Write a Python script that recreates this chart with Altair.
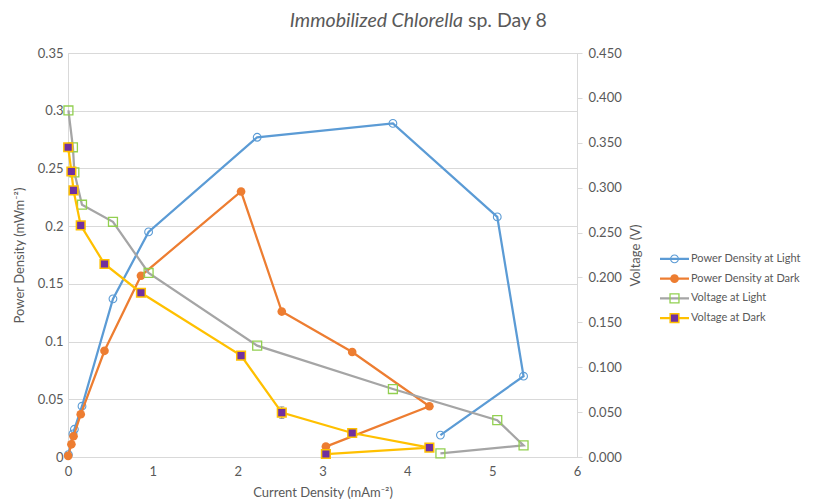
import altair as alt
import pandas as pd

# ---------------- data ----------------
light_x = [0.005, 0.058, 0.075, 0.165, 0.53, 0.95, 2.23, 3.83, 5.06, 5.37, 4.39]
light_pd = [0.002, 0.020, 0.024, 0.044, 0.137, 0.195, 0.277, 0.289, 0.208, 0.070, 0.019]
light_v = [0.386, 0.345, 0.317, 0.281, 0.262, 0.205, 0.124, 0.0757, 0.041, 0.013, 0.004]

dark_x = [0.002, 0.040, 0.065, 0.150, 0.43, 0.86, 2.04, 2.52, 3.35, 4.26, 3.04]
dark_pd = [0.001, 0.011, 0.018, 0.037, 0.092, 0.157, 0.230, 0.126, 0.091, 0.044, 0.009]
dark_v = [0.345, 0.318, 0.297, 0.258, 0.215, 0.183, 0.113, 0.0494, 0.0267, 0.0104, 0.0033]
dark_err = [0.002, 0.002, 0.002, 0.002, 0.004, 0.004, 0.002, 0.0065, 0.002, 0.002, 0.001]

series_names = ["Power Density at Light", "Power Density at Dark",
                "Voltage at Light", "Voltage at Dark"]
x_ticks = [0, 1, 2, 3, 4, 5, 6]
pd_ticks = [0, 0.05, 0.1, 0.15, 0.2, 0.25, 0.3, 0.35]
v_ticks = [0, 0.05, 0.1, 0.15, 0.2, 0.25, 0.3, 0.35, 0.4, 0.45]
title_italic = ["Immobilized Chlorella"]
title_plain = ["sp. Day 8"]

# ---------------- styling ----------------
BLUE = "#5B9BD5"
ORANGE = "#ED7D31"
GRAY = "#A5A5A5"
YELLOW = "#FFC000"
GREEN = "#92D050"
PURPLE = "#7030A0"
TXT = "#595959"
GRID = "#D9D9D9"
FONT = "Lato"
W, H = 509, 404

light = pd.DataFrame({"x": light_x, "pd": light_pd, "v": light_v,
                      "i": list(range(len(light_x)))})
dark = pd.DataFrame({"x": dark_x, "pd": dark_pd, "v": dark_v,
                     "i": list(range(len(dark_x)))})
dark["lo"] = [v - e for v, e in zip(dark_v, dark_err)]
dark["hi"] = [v + e for v, e in zip(dark_v, dark_err)]

X = alt.X("x:Q", scale=alt.Scale(domain=[0, 6], nice=False),
          axis=alt.Axis(values=x_ticks, format="d", title="Current Density (mAm⁻²)",
                        grid=False, ticks=False, domainColor=GRID, labelFlush=False,
                        labelColor=TXT, labelFontSize=13, labelFont=FONT,
                        titleColor=TXT, titleFontSize=13, titleFont=FONT,
                        titleFontWeight="normal", labelPadding=8, titlePadding=8))

left_axis = alt.Axis(values=pd_ticks, format=".2~f", title="Power Density (mWm⁻²)",
                     grid=True, gridColor=GRID, ticks=False, domainColor=GRID,
                     labelFlush=False,
                     labelColor=TXT, labelFontSize=13, labelFont=FONT,
                     titleColor=TXT, titleFontSize=13, titleFont=FONT,
                     titleFontWeight="normal", labelPadding=5, titlePadding=11)
pd_scale = alt.Scale(domain=[0, 0.35], nice=False)
YP = alt.Y("pd:Q", scale=pd_scale, axis=left_axis)

right_axis = alt.Axis(values=v_ticks, format=".3f", title="Voltage (V)", orient="right",
                      grid=False, ticks=True, tickSize=5, tickColor=GRID, domainColor=GRID,
                      labelFlush=False,
                      labelColor=TXT, labelFontSize=13, labelFont=FONT,
                      titleColor=TXT, titleFontSize=13, titleFont=FONT, titleAngle=270,
                      titleBaseline="top",
                      titleFontWeight="normal", labelPadding=6, titlePadding=8)
v_scale = alt.Scale(domain=[0, 0.45], nice=False)
YV = alt.Y("v:Q", scale=v_scale, axis=right_axis)

# ---------------- power density (left axis) ----------------
pl_line = alt.Chart(light).mark_line(color=BLUE, strokeWidth=2.25).encode(x=X, y=YP, order="i:Q")
pl_pts = alt.Chart(light).mark_point(shape="circle", filled=False, color=BLUE, size=60,
                                     strokeWidth=1.1, opacity=1).encode(x=X, y=YP)
pdk_line = alt.Chart(dark).mark_line(color=ORANGE, strokeWidth=2.25).encode(x=X, y=YP, order="i:Q")
pdk_pts = alt.Chart(dark).mark_circle(color=ORANGE, size=75, opacity=1).encode(x=X, y=YP)
power = alt.layer(pl_line, pl_pts, pdk_line, pdk_pts)

# ---------------- voltage (right axis) ----------------
vl_line = alt.Chart(light).mark_line(color=GRAY, strokeWidth=2.25).encode(x=X, y=YV, order="i:Q")
vl_pts = alt.Chart(light).mark_point(shape="square", filled=False, color=GREEN, size=80,
                                     strokeWidth=1.3, opacity=1).encode(x=X, y=YV)
vd_line = alt.Chart(dark).mark_line(color=YELLOW, strokeWidth=2.25).encode(x=X, y=YV, order="i:Q")
vd_err = alt.Chart(dark).mark_errorbar(ticks=True, color="#7F7F7F").encode(
    x=X, y=alt.Y("lo:Q", scale=v_scale, axis=right_axis), y2="hi:Q")
vd_pts = alt.Chart(dark).mark_square(fill=PURPLE, stroke=YELLOW, strokeWidth=1.5,
                                     size=75, opacity=1).encode(x=X, y=YV)
voltage = alt.layer(vl_line, vl_pts, vd_line, vd_err, vd_pts)

# ---------------- legend (built as marks) ----------------
leg = pd.DataFrame({"s": series_names})
LY = alt.Y("s:N", scale=alt.Scale(domain=series_names, range=[196, 275], padding=0), axis=None)
LC = alt.Color("s:N", scale=alt.Scale(domain=series_names, range=[BLUE, ORANGE, GRAY, YELLOW]),
               legend=None)
leg_lines = alt.Chart(leg).mark_rule(strokeWidth=2.25).encode(
    x=alt.value(592), x2=alt.value(621), y=LY, color=LC)
leg_p1 = alt.Chart(leg).transform_filter(alt.datum.s == series_names[0]).mark_point(
    shape="circle", filled=False, color=BLUE, size=60, strokeWidth=1.1, opacity=1).encode(
    x=alt.value(606.5), y=LY)
leg_p2 = alt.Chart(leg).transform_filter(alt.datum.s == series_names[1]).mark_circle(
    color=ORANGE, size=75, opacity=1).encode(x=alt.value(606.5), y=LY)
leg_p3 = alt.Chart(leg).transform_filter(alt.datum.s == series_names[2]).mark_point(
    shape="square", filled=False, color=GREEN, size=80, strokeWidth=1.3, opacity=1).encode(
    x=alt.value(606.5), y=LY)
leg_p4 = alt.Chart(leg).transform_filter(alt.datum.s == series_names[3]).mark_square(
    fill=PURPLE, stroke=YELLOW, strokeWidth=1.5, size=75, opacity=1).encode(
    x=alt.value(606.5), y=LY)
leg_text = alt.Chart(leg).mark_text(align="left", baseline="middle", font=FONT,
                                    fontSize=11, color=TXT).encode(
    x=alt.value(623), y=LY, text="s:N")
legend = alt.layer(leg_lines, leg_p1, leg_p2, leg_p3, leg_p4, leg_text)

# ---------------- title (mixed italic / regular) ----------------
t1 = alt.Chart(pd.DataFrame({"t": title_italic})).mark_text(
    align="right", baseline="alphabetic", font=FONT, fontSize=19.5, fontStyle="italic",
    color=TXT).encode(x=alt.value(395), y=alt.value(-26), text="t:N")
t2 = alt.Chart(pd.DataFrame({"t": title_plain})).mark_text(
    align="left", baseline="alphabetic", font=FONT, fontSize=19.5, color=TXT).encode(
    x=alt.value(400), y=alt.value(-26), text="t:N")

chart = alt.layer(power, voltage, legend, t1, t2).resolve_scale(y="independent").properties(
    width=W, height=H, padding={"left": 5, "top": 3, "right": 0, "bottom": 0}
).configure_view(stroke=None).configure(background="white")

chart.save("out.html", embed_options={"renderer": "svg", "actions": False})
